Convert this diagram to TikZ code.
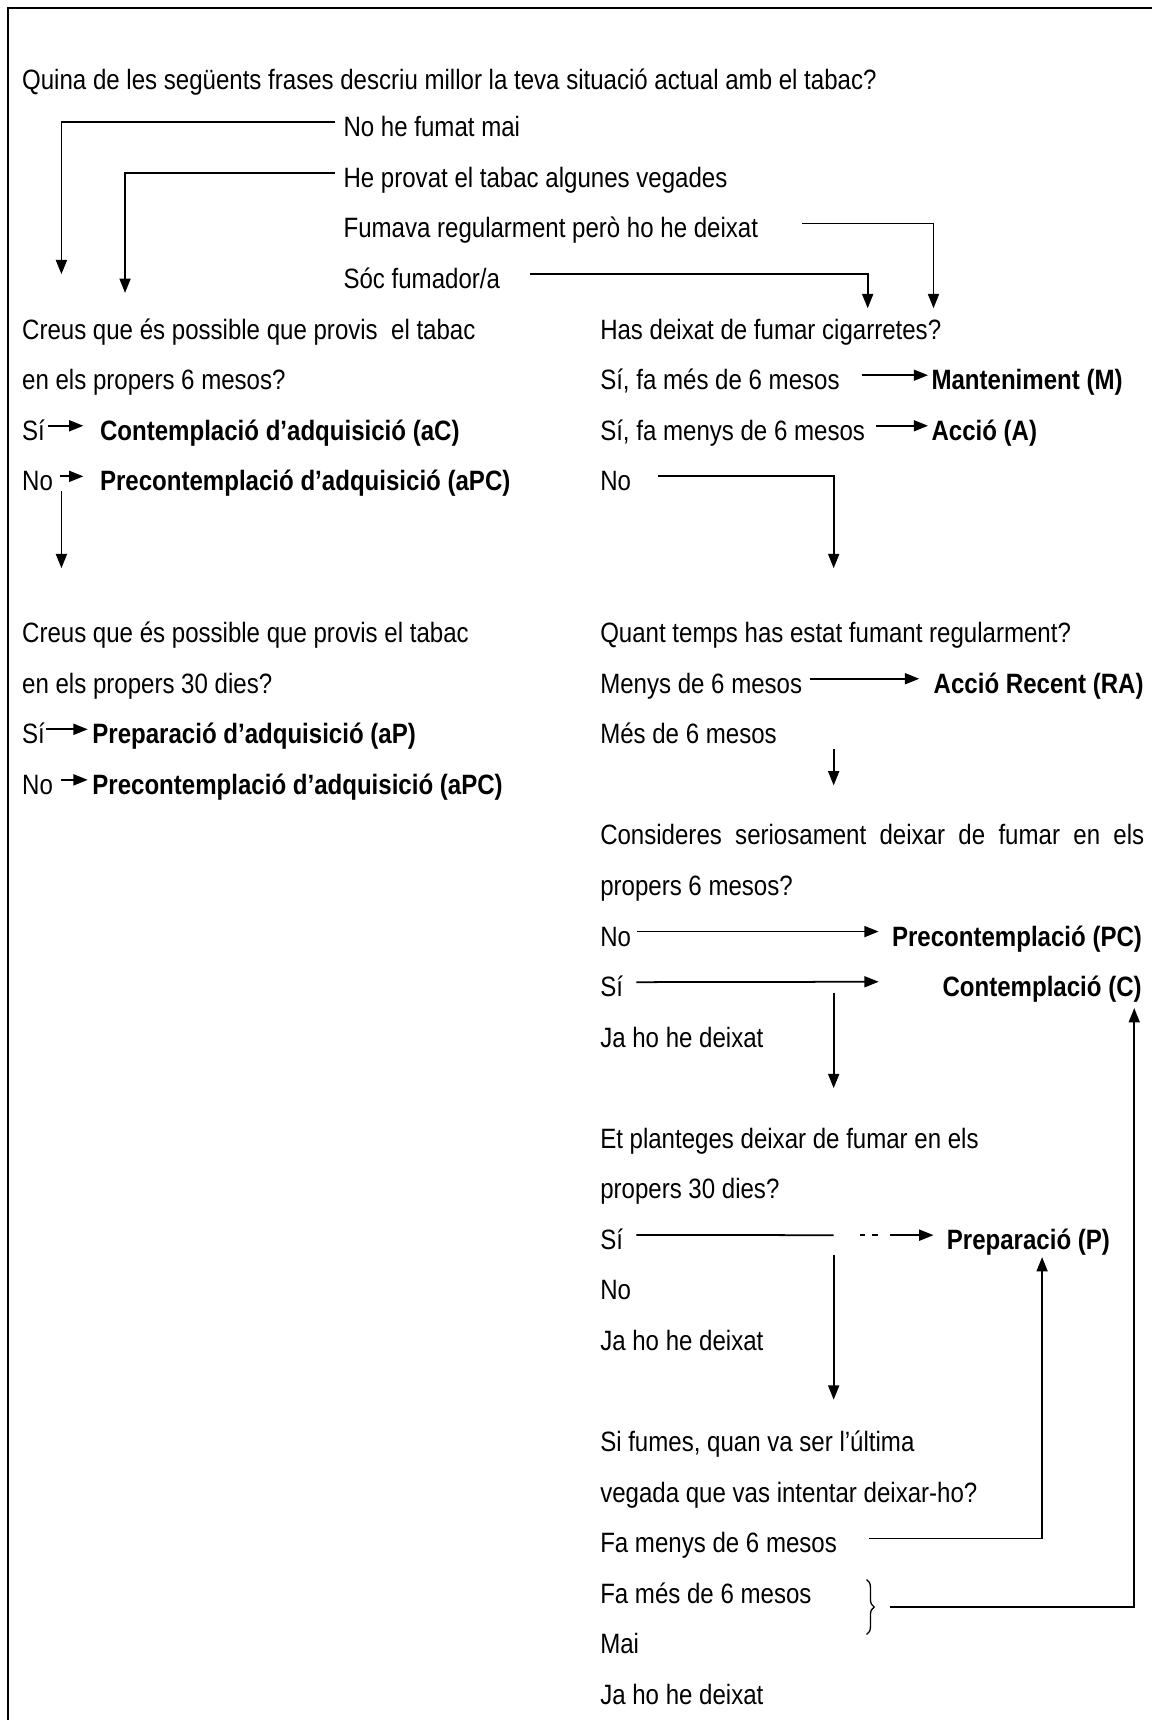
\documentclass[tikz,border=0pt]{standalone}
\usepackage{fontspec}
\setmainfont{Liberation Sans}[FakeStretch=0.86]
\usetikzlibrary{arrows.meta,decorations.pathreplacing}
\begin{document}
\begin{tikzpicture}[x=1pt,y=-1pt,
  txt/.style={anchor=base west,inner sep=0pt,text height=18.3pt,text depth=0pt,font=\fontsize{25.5}{30}\selectfont},
  bld/.style={txt,font=\fontsize{25.5}{30}\selectfont\bfseries},
  ln/.style={line width=1.6pt},
  arr/.style={ln,-{Triangle[length=13pt,width=10pt]}},
  frame/.style={line width=2.4pt}
]
\useasboundingbox (0,0) rectangle (1050,1568);
\draw[frame] (1050,7.3) -- (7.3,7.3) -- (7.3,1568);

% ---- question 1 ----
\node[txt] (q0) at (20,82) {Quina de les següents frases descriu millor la teva situació actual amb el tabac?};
\node[txt] (o1) at (313,124.7) {No he fumat mai};
\node[txt] (o2) at (313,170.8) {He provat el tabac algunes vegades};
\node[txt] (o3) at (313,216.9) {Fumava regularment però ho he deixat};
\node[txt] (o4) at (313,263) {Sóc fumador/a};

% ---- left column ----
\node[txt] (l1) at (20,309.2) {Creus que és possible que provis\ \ el tabac};
\node[txt] (l2) at (20,355.2) {en els propers 6 mesos?};
\node[txt] (l3a) at (20,401.3) {Sí};
\node[bld] (l3b) at (91,401.3) {Contemplació d’adquisició (aC)};
\node[txt] (l4a) at (20,447.4) {No};
\node[bld] (l4b) at (91,447.4) {Precontemplació d’adquisició (aPC)};

\node[txt] (m1) at (20,585.8) {Creus que és possible que provis el tabac};
\node[txt] (m2) at (20,631.9) {en els propers 30 dies?};
\node[txt] (m3a) at (20,678) {Sí};
\node[bld] (m3b) at (84,678) {Preparació d’adquisició (aP)};
\node[txt] (m4a) at (20,724.1) {No};
\node[bld] (m4b) at (84,724.1) {Precontemplació d’adquisició (aPC)};

% ---- right column ----
\node[txt] (r1) at (547,309.2) {Has deixat de fumar cigarretes?};
\node[txt] (r2) at (547,355.2) {Sí, fa més de 6 mesos};
\node[bld] (r2b) at (849,355.2) {Manteniment (M)};
\node[txt] (r3) at (547,401.3) {Sí, fa menys de 6 mesos};
\node[bld] (r3b) at (849,401.3) {Acció (A)};
\node[txt] (r4) at (547,447.4) {No};

\node[txt] (s1) at (547,585.8) {Quant temps has estat fumant regularment?};
\node[txt] (s2) at (547,631.9) {Menys de 6 mesos};
\node[bld] (s2b) at (851,631.9) {Acció Recent (RA)};
\node[txt] (s3) at (547,678) {Més de 6 mesos};

\node[txt] (c1) at (547,770.2) {\makebox[496pt][s]{Consideres seriosament deixar de fumar en els}};
\node[txt] (c2) at (547,816.3) {propers 6 mesos?};
\node[txt] (c3) at (547,862.4) {No};
\node[bld] (c3b) at (813,862.4) {Precontemplació (PC)};
\node[txt] (c4) at (547,908.5) {Sí};
\node[bld,anchor=base east] (c4b) at (1041,908.5) {Contemplació (C)};
\node[txt] (c5) at (547,954.6) {Ja ho he deixat};

\node[txt] (e1) at (547,1046.8) {Et planteges deixar de fumar en els};
\node[txt] (e2) at (547,1092.9) {propers 30 dies?};
\node[txt] (e3) at (547,1139) {Sí};
\node[bld] (e3b) at (863,1139) {Preparació (P)};
\node[txt] (e4) at (547,1185.1) {No};
\node[txt] (e5) at (547,1231.2) {Ja ho he deixat};

\node[txt] (f1) at (547,1323.4) {Si fumes, quan va ser l’última};
\node[txt] (f2) at (547,1369.5) {vegada que vas intentar deixar-ho?};
\node[txt] (f3) at (547,1415.6) {Fa menys de 6 mesos};
\node[txt] (f4) at (547,1461.7) {Fa més de 6 mesos};
\node[txt] (f5) at (547,1507.8) {Mai};
\node[txt] (f6) at (547,1553.9) {Ja ho he deixat};

% ---- coordinates ----
\coordinate (a1e) at (56,250);
\coordinate (a2e) at (114,267);
\coordinate (a3e) at (851,281);
\coordinate (a4e) at (791,281);
\coordinate (d1s) at (56,448);
\coordinate (d1e) at (56,518);
\coordinate (d2e) at (760,518);
\coordinate (d3s) at (760,683);
\coordinate (d3e) at (760,716);
\coordinate (cSt) at (801,895);
\coordinate (d4s) at (760,905);
\coordinate (d4e) at (760,992);
\coordinate (eSl) at (760,1126);
\coordinate (eSd1) at (784,1126);
\coordinate (eSd2) at (801,1126);
\coordinate (eSa1) at (811,1126);
\coordinate (eSa2) at (851,1126);
\coordinate (d5s) at (760,1144);
\coordinate (d5e) at (760,1276);
\coordinate (pUp) at (950,1146);
\coordinate (brT) at (790,1440);
\coordinate (brB) at (790,1490);
\coordinate (brTip) at (811,1465);
\coordinate (cUp) at (1034,919);

% ---- connectors ----
\draw[arr] ([xshift=-8pt,yshift=4pt]o1.west) -| (a1e);
\draw[arr] ([xshift=-8pt,yshift=4pt]o2.west) -| (a2e);
\draw[arr] ([xshift=40pt,yshift=4pt]o3.east) -| (a3e);
\draw[arr] ([xshift=27pt,yshift=4pt]o4.east) -| (a4e);

\draw[arr] ([xshift=3pt,yshift=4pt]l3a.east) -- ([xshift=-15pt,yshift=4pt]l3b.west);
\draw[arr] ([xshift=6pt,yshift=4pt]l4a.east) -- ([xshift=-15pt,yshift=4pt]l4b.west);
\draw[arr] (d1s) -- (d1e);

\draw[arr] ([xshift=1pt,yshift=4pt]m3a.east) -- ([xshift=-4pt,yshift=4pt]m3b.west);
\draw[arr] ([xshift=7pt,yshift=4pt]m4a.east) -- ([xshift=-4pt,yshift=4pt]m4b.west);

\draw[arr] ([xshift=20pt,yshift=4pt]r2.east) -- ([xshift=-3pt,yshift=4pt]r2b.west);
\draw[arr] ([xshift=10pt,yshift=4pt]r3.east) -- ([xshift=-3pt,yshift=4pt]r3b.west);
\draw[arr] ([xshift=24pt,yshift=4pt]r4.east) -| (d2e);

\draw[arr] ([xshift=7pt,yshift=4pt]s2.east) -- ([xshift=-13pt,yshift=4pt]s2b.west);
\draw[arr] (d3s) -- (d3e);

\draw[arr] ([xshift=5pt,yshift=4pt]c3.east) -- ([xshift=-12pt,yshift=4pt]c3b.west);
\draw[arr] ([xshift=12pt,yshift=4pt]c4.east) -- (cSt);
\draw[arr] (d4s) -- (d4e);

\draw[ln] ([xshift=12pt,yshift=4pt]e3.east) -- (eSl);
\draw[ln,dash pattern=on 5pt off 6pt] (eSd1) -- (eSd2);
\draw[arr] (eSa1) -- (eSa2);
\draw[arr] (d5s) -- (d5e);

\draw[arr] ([xshift=29pt,yshift=4pt]f3.east) -| (pUp);
\draw[line width=1.2pt,decorate,decoration={brace,amplitude=7pt}] (brT) -- (brB);
\draw[arr] (brTip) -| (cUp);
\end{tikzpicture}
\end{document}
